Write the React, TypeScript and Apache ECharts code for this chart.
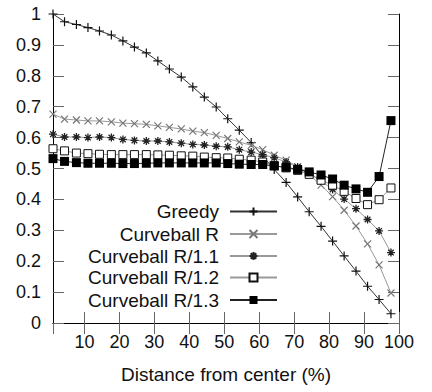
import React, { useEffect, useRef } from "react";
import * as echarts from "echarts";

const xValues = [1, 4.3, 7.7, 11, 14.3, 17.7, 21, 24.3, 27.7, 31, 34.3, 37.7, 41, 44.3, 47.7, 51, 54.3, 57.7, 61, 64.3, 67.7, 71, 74.3, 77.7, 81, 84.3, 87.7, 91, 94.3, 97.7];

const greedy = [1.0, 0.975, 0.966, 0.956, 0.945, 0.932, 0.913, 0.893, 0.874, 0.848, 0.822, 0.796, 0.764, 0.731, 0.699, 0.661, 0.624, 0.584, 0.540, 0.497, 0.455, 0.408, 0.360, 0.313, 0.265, 0.217, 0.168, 0.119, 0.076, 0.030];
const curveR = [0.676, 0.660, 0.657, 0.654, 0.654, 0.651, 0.647, 0.645, 0.643, 0.638, 0.633, 0.628, 0.621, 0.616, 0.607, 0.597, 0.586, 0.575, 0.561, 0.543, 0.527, 0.506, 0.480, 0.446, 0.409, 0.365, 0.314, 0.256, 0.188, 0.097];
const curveR11 = [0.611, 0.602, 0.602, 0.600, 0.602, 0.600, 0.594, 0.591, 0.589, 0.589, 0.586, 0.582, 0.578, 0.576, 0.572, 0.570, 0.561, 0.553, 0.545, 0.535, 0.521, 0.505, 0.485, 0.460, 0.432, 0.401, 0.370, 0.335, 0.298, 0.228];
const curveR12 = [0.564, 0.557, 0.550, 0.548, 0.546, 0.545, 0.545, 0.545, 0.545, 0.544, 0.543, 0.541, 0.540, 0.537, 0.535, 0.534, 0.530, 0.527, 0.521, 0.510, 0.502, 0.494, 0.481, 0.462, 0.446, 0.426, 0.403, 0.383, 0.399, 0.437];
const curveR13 = [0.532, 0.523, 0.519, 0.517, 0.517, 0.517, 0.516, 0.516, 0.517, 0.518, 0.518, 0.518, 0.518, 0.518, 0.518, 0.516, 0.514, 0.513, 0.513, 0.508, 0.504, 0.497, 0.489, 0.479, 0.466, 0.446, 0.434, 0.423, 0.474, 0.655];

const seriesNames = ["Greedy", "Curveball R", "Curveball R/1.1", "Curveball R/1.2", "Curveball R/1.3"];
const seriesValues = [greedy, curveR, curveR11, curveR12, curveR13];
const xAxisTitle = "Distance from center (%)";

const FONT = "'Liberation Sans', Arial, sans-serif";

const PLUS = "path://M0,5L10,5M5,0L5,10";
const CROSS = "path://M0,0L10,10M10,0L0,10";
const STAR = "path://M0,5L10,5M5,0L5,10M1.5,1.5L8.5,8.5M8.5,1.5L1.5,8.5";

const styles = [
  { symbol: PLUS, size: 9, line: "#333", fill: "none", border: "#111", bw: 1.2 },
  { symbol: CROSS, size: 7, line: "#999", fill: "none", border: "#777", bw: 1.2 },
  { symbol: STAR, size: 8, line: "#999", fill: "none", border: "#222", bw: 1.3 },
  { symbol: "rect", size: 8, line: "#999", fill: "#fff", border: "#111", bw: 1 },
  { symbol: "rect", size: 9, line: "#222", fill: "#000", border: "#000", bw: 0 },
];

const legendTops = [202, 224.5, 246.5, 268, 290.5];

export default function App() {
  const ref = useRef<HTMLDivElement>(null);
  useEffect(() => {
    if (!ref.current) return;
    const chart = echarts.init(ref.current, null, { renderer: "svg" });
    const tickStyle = { show: true, inside: true, length: 11, lineStyle: { color: "#666", width: 1 } };
    const axisLine = { show: true, lineStyle: { color: "#000", width: 1 } };
    chart.setOption({
      animation: false,
      backgroundColor: "#fff",
      textStyle: { fontFamily: FONT },
      grid: { left: 53, right: 33, top: 14, bottom: 69, containLabel: false },
      xAxis: [
        {
          type: "value",
          min: 1,
          max: 100,
          splitNumber: 10,
          minInterval: 10,
          maxInterval: 10,
          position: "bottom",
          axisLine,
          axisTick: tickStyle,
          splitLine: { show: false },
          axisLabel: {
            margin: 10,
            fontSize: 18,
            color: "#111",
            fontFamily: FONT,
            showMinLabel: false,
            formatter: (v: number) => (Math.round(v) % 10 === 0 ? String(Math.round(v)) : ""),
          },
          name: xAxisTitle,
          nameLocation: "middle",
          nameGap: 42,
          nameTextStyle: { fontSize: 19, color: "#111", fontFamily: FONT },
        },
        {
          type: "value",
          min: 1,
          max: 100,
          splitNumber: 10,
          minInterval: 10,
          maxInterval: 10,
          position: "top",
          axisLine,
          axisTick: tickStyle,
          splitLine: { show: false },
          axisLabel: { show: false },
        },
      ],
      yAxis: [
        {
          type: "value",
          min: 0,
          max: 1,
          interval: 0.1,
          position: "left",
          axisLine,
          axisTick: tickStyle,
          splitLine: { show: false },
          axisLabel: { margin: 12, fontSize: 18, color: "#111", fontFamily: FONT },
        },
        {
          type: "value",
          min: 0,
          max: 1,
          interval: 0.1,
          position: "right",
          axisLine,
          axisTick: tickStyle,
          splitLine: { show: false },
          axisLabel: { show: false },
        },
      ],
      legend: seriesNames.map((name, i) => ({
        data: [name],
        right: 154,
        top: legendTops[i],
        padding: 0,
        align: "right",
        orient: "vertical",
        itemWidth: 47,
        itemHeight: 10,
        selectedMode: false,
        textStyle: { fontSize: 19, color: "#111", fontFamily: FONT, padding: [0, 6, 0, 0] },
      })),
      series: seriesNames.map((name, i) => ({
        name,
        type: "line",
        xAxisIndex: 0,
        yAxisIndex: 0,
        data: xValues.map((x, k) => [x, seriesValues[i][k]]),
        symbol: styles[i].symbol,
        symbolSize: styles[i].size,
        showAllSymbol: true,
        lineStyle: { color: styles[i].line, width: 1 },
        itemStyle: { color: styles[i].fill, borderColor: styles[i].border, borderWidth: styles[i].bw },
        emphasis: { disabled: true },
        z: 2 + i,
      })),
    });
    return () => chart.dispose();
  }, []);
  return (
    <div
      ref={ref}
      style={{ position: "absolute", left: 0, top: 0, width: 432, height: 392, background: "#fff" }}
    />
  );
}
